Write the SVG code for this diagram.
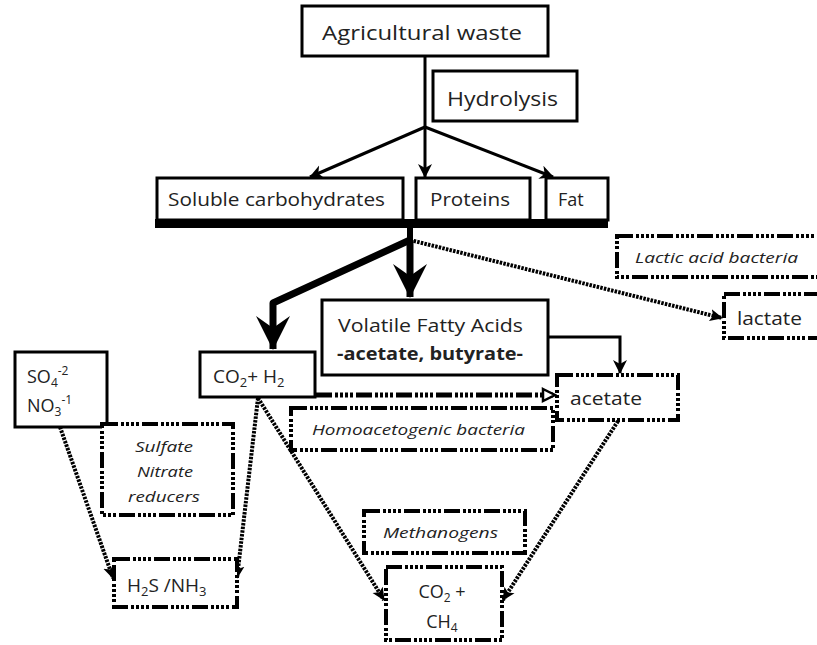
<svg xmlns="http://www.w3.org/2000/svg" width="817" height="645" viewBox="0 0 817 645">
<style>
text{font-family:"Open Sans","Liberation Sans",sans-serif;fill:#222;}
.t20{font-size:20px;}
.t18{font-size:18px;}
.it{font-style:italic;font-size:15px;}
.box{fill:#fff;stroke:#000;stroke-width:3;}
.dbox{fill:#fff;stroke:#000;stroke-width:4;stroke-dasharray:16 3 3 2 3 2 3 2 3 3;}
.ln{fill:none;stroke:#000;stroke-width:3;}
.thick{fill:none;stroke:#000;stroke-width:7;stroke-linejoin:round;}
.dot{fill:none;stroke:#000;stroke-width:4;stroke-dasharray:2.5 1.2;}
.dd{fill:none;stroke:#000;stroke-width:5;stroke-dasharray:16 3 3 2 3 2 3 2 3 3;}
</style>
<defs>
<marker id="ah" markerUnits="userSpaceOnUse" markerWidth="16" markerHeight="16" refX="13" refY="7" orient="auto"><path d="M0,0 L14,7 L0,14 L4,7 z" fill="#000"/></marker>
<marker id="big" markerUnits="userSpaceOnUse" markerWidth="36" markerHeight="36" refX="33" refY="17" orient="auto"><path d="M0,0 L34,17 L0,34 L12,17 z" fill="#000"/></marker>
<marker id="sm" markerUnits="userSpaceOnUse" markerWidth="16" markerHeight="16" refX="12" refY="7" orient="auto"><path d="M0,1 L13,7 L0,13 L3,7 z" fill="#000"/></marker>
<marker id="op" markerUnits="userSpaceOnUse" markerWidth="18" markerHeight="18" refX="13" refY="8" orient="auto"><path d="M2,2 L14,8 L2,14 z" fill="#fff" stroke="#000" stroke-width="2.5"/></marker>
</defs>

<g id="connectors">
<line class="ln" x1="425" y1="56" x2="425" y2="127"/>
<line class="ln" x1="425" y1="127" x2="310" y2="177" marker-end="url(#ah)"/>
<line class="ln" x1="425" y1="127" x2="425" y2="177" marker-end="url(#ah)"/>
<line class="ln" x1="425" y1="127" x2="553" y2="177" marker-end="url(#ah)"/>
<line x1="410" y1="226" x2="410" y2="242" stroke="#000" stroke-width="6"/>
<polyline class="thick" points="410,240 273,303 273,349" marker-end="url(#big)"/>
<line class="thick" x1="410" y1="240" x2="410" y2="297" marker-end="url(#big)"/>
<line class="dot" x1="410" y1="240" x2="722" y2="318" marker-end="url(#sm)"/>
<polyline class="ln" points="548,337 620,337 620,373" marker-end="url(#ah)"/>
<line class="dd" x1="316" y1="395" x2="554" y2="395" marker-end="url(#op)"/>
<line class="dot" x1="60" y1="427" x2="113" y2="578" marker-end="url(#sm)"/>
<line class="dot" x1="258" y1="398" x2="237" y2="578" marker-end="url(#sm)"/>
<line class="dot" x1="258" y1="398" x2="384" y2="600" marker-end="url(#sm)"/>
<line class="dot" x1="618" y1="421" x2="503" y2="600" marker-end="url(#sm)"/>
</g>

<g id="agricultural-waste">
<rect class="box" x="302" y="6" width="246" height="50"/>
<text class="t20" x="322" y="40" textLength="200" lengthAdjust="spacingAndGlyphs">Agricultural waste</text>
</g>
<g id="hydrolysis">
<rect class="box" x="433" y="71" width="144" height="50"/>
<text class="t20" x="447" y="106" textLength="111" lengthAdjust="spacingAndGlyphs">Hydrolysis</text>
</g>
<g id="shadow-bar">
<rect x="155" y="219" width="453" height="9" fill="#000"/>
</g>
<g id="soluble-carbohydrates">
<rect class="box" x="157" y="178" width="246" height="42"/>
<text class="t18" x="168" y="206" textLength="217" lengthAdjust="spacingAndGlyphs">Soluble carbohydrates</text>
</g>
<g id="proteins">
<rect class="box" x="416" y="178" width="114" height="42"/>
<text class="t18" x="430" y="206" textLength="80" lengthAdjust="spacingAndGlyphs">Proteins</text>
</g>
<g id="fat">
<rect class="box" x="546" y="178" width="62" height="42"/>
<text class="t18" x="558" y="206">Fat</text>
</g>
<g id="lactic-acid-bacteria">
<rect class="dbox" x="617" y="236" width="215" height="41"/>
<text class="it" x="635" y="263" textLength="163" lengthAdjust="spacingAndGlyphs">Lactic acid  bacteria</text>
</g>
<g id="lactate">
<rect class="dbox" x="724" y="294" width="108" height="44"/>
<text x="737" y="325" font-size="19" textLength="65" lengthAdjust="spacingAndGlyphs">lactate</text>
</g>
<g id="vfa">
<rect class="box" x="322" y="300" width="226" height="75"/>
<text class="t18" x="338" y="332" textLength="185" lengthAdjust="spacingAndGlyphs">Volatile Fatty Acids</text>
<text x="337" y="360" font-size="17" font-weight="bold" textLength="186" lengthAdjust="spacingAndGlyphs">-acetate, butyrate-</text>
</g>
<g id="co2-h2">
<rect class="box" x="200" y="352" width="115" height="45"/>
<text x="213" y="383" font-size="19">CO<tspan font-size="13" dy="4">2</tspan><tspan dy="-4">+ H</tspan><tspan font-size="13" dy="4">2</tspan></text>
</g>
<g id="acetate">
<rect class="dbox" x="557" y="375" width="121" height="45"/>
<text x="570" y="405" font-size="19" textLength="72" lengthAdjust="spacingAndGlyphs">acetate</text>
</g>
<g id="homoacetogenic-bacteria">
<rect class="dbox" x="291" y="408" width="262" height="42"/>
<text class="it" x="312" y="435" font-size="16" textLength="213" lengthAdjust="spacingAndGlyphs">Homoacetogenic bacteria</text>
</g>
<g id="so4-no3">
<rect class="box" x="15" y="352" width="92" height="75"/>
<text class="t18" x="27" y="383">SO<tspan font-size="12" dy="4">4</tspan><tspan font-size="12" dy="-12">-2</tspan></text>
<text class="t18" x="27" y="412">NO<tspan font-size="12" dy="4">3</tspan><tspan font-size="12" dy="-12">-1</tspan></text>
</g>
<g id="sulfate-nitrate-reducers">
<rect class="dbox" x="102" y="424" width="131" height="91"/>
<text class="it" x="135" y="452" font-size="16" textLength="58" lengthAdjust="spacingAndGlyphs">Sulfate</text>
<text class="it" x="137" y="477" font-size="16" textLength="56" lengthAdjust="spacingAndGlyphs">Nitrate</text>
<text class="it" x="128" y="502" font-size="16" textLength="72" lengthAdjust="spacingAndGlyphs">reducers</text>
</g>
<g id="h2s-nh3">
<rect class="dbox" x="114" y="559" width="123" height="48"/>
<text x="127" y="592" font-size="19">H<tspan font-size="13" dy="4">2</tspan><tspan dy="-4">S /NH</tspan><tspan font-size="13" dy="4">3</tspan></text>
</g>
<g id="methanogens">
<rect class="dbox" x="364" y="511" width="161" height="42"/>
<text class="it" x="383" y="538" font-size="16" textLength="115" lengthAdjust="spacingAndGlyphs">Methanogens</text>
</g>
<g id="co2-ch4">
<rect class="dbox" x="386" y="567" width="116" height="73"/>
<text class="t18" x="442" y="598" text-anchor="middle">CO<tspan font-size="12" dy="4">2</tspan><tspan dy="-4"> +</tspan></text>
<text class="t18" x="442" y="628" text-anchor="middle">CH<tspan font-size="12" dy="4">4</tspan></text>
</g>
</svg>
